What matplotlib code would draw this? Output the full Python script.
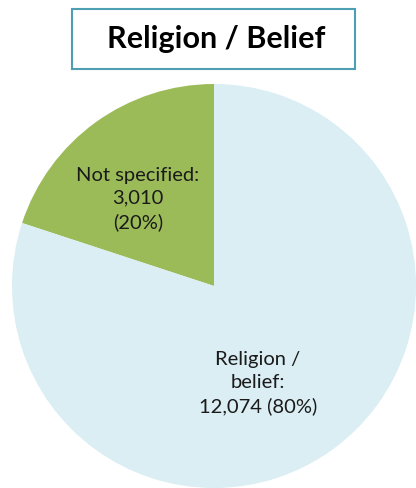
import matplotlib.pyplot as plt
from matplotlib.patches import Rectangle

labels = ["Not specified", "Religion / belief"]
values = [3010, 12074]
colors = ["#9BBB59", "#DAEEF3"]

W, H = 416, 488
fig = plt.figure(figsize=(W / 100, H / 100), dpi=100)
ax = fig.add_axes([0, 0, 1, 1])

cx, cy, r = 214, H - 286, 202
ax.pie(values, colors=colors, startangle=90, counterclock=True,
       center=(cx, cy), radius=r, frame=True,
       wedgeprops=dict(linewidth=0))
ax.set_xlim(0, W)
ax.set_ylim(0, H)
ax.set_aspect("equal")
ax.axis("off")

total = sum(values)
pct = [round(v / total * 100) for v in values]
font = dict(family=["Lato", "DejaVu Sans"], fontsize=14.5, color="#1a1a1a",
            ha="center", va="center", linespacing=1.45)
ax.text(138, H - 199, f"Not specified:\n{values[0]:,}\n({pct[0]}%)", **font)
ax.text(258, H - 383, f"Religion /\nbelief:\n{values[1]:,} ({pct[1]}%)", **font)

# title box
fig.patches.append(Rectangle((72 / W, 1 - 69 / H), 283 / W, 60 / H,
                             transform=fig.transFigure, facecolor="white",
                             edgecolor="#4F9FB4", linewidth=1.5))
fig.text(216 / W, 1 - 39 / H, "Religion / Belief", ha="center", va="center",
         fontsize=22, fontweight="bold", family=["Lato", "DejaVu Sans"])

fig.savefig("out.png", dpi=100)
